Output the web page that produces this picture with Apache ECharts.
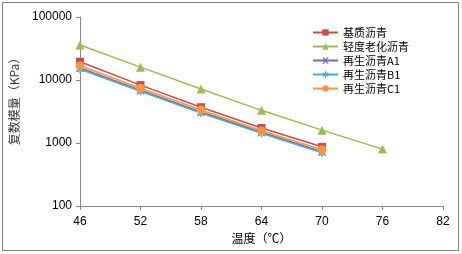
<!DOCTYPE html>
<html><head><meta charset="utf-8">
<script src="https://cdn.jsdelivr.net/npm/echarts@6/dist/echarts.min.js"></script>
<style>html,body{margin:0;padding:0;background:#fff}#c{width:462px;height:254px}</style>
</head><body><div id="c"></div>
<script>
const temps = [46, 52, 58, 64, 70, 76];
const seriesNames = ['基质沥青', '轻度老化沥青', '再生沥青A1', '再生沥青B1', '再生沥青C1'];
const base = [19500, 8300, 3700, 1730, 870];
const aged = [36000, 16000, 7200, 3300, 1600, 800];
const a1 = [15500, 6900, 3100, 1480, 730];
const b1 = [14800, 6600, 2980, 1420, 700];
const c1 = [16800, 7400, 3350, 1560, 780];
const valueSets = [base, aged, a1, b1, c1];
const xTicks = [46, 52, 58, 64, 70, 76, 82];
const yTicks = [100, 1000, 10000, 100000];

const colors = ['#C0504D', '#9BBB59', '#8064A2', '#4BACC6', '#F79646'];
const xPath = 'path://M0,0 L2,0 L5,3 L8,0 L10,0 L6,5 L10,10 L8,10 L5,7 L2,10 L0,10 L4,5 Z';
const starPath = 'path://M4,0 L6,0 L6,3.5 L9,1.5 L10,3 L7,5 L10,7 L9,8.5 L6,6.5 L6,10 L4,10 L4,6.5 L1,8.5 L0,7 L3,5 L0,3 L1,1.5 L4,3.5 Z';
const symbols = ['rect', 'triangle', xPath, starPath, 'circle'];
const sizes = [8, 9, 8, 8, 9];

const chart = echarts.init(document.getElementById('c'));
const series = valueSets.map((vals, i) => ({
  name: seriesNames[i],
  type: 'line',
  data: vals.map((v, j) => [temps[j], v]),
  symbol: symbols[i],
  symbolSize: sizes[i],
  showAllSymbol: true,
  lineStyle: { color: colors[i], width: 1.5 },
  itemStyle: { color: colors[i] },
  z: 2 + (i === 4 ? 1 : 0)
}));

chart.setOption({
  animation: false,
  backgroundColor: '#fff',
  textStyle: { fontFamily: 'Liberation Sans, Noto Sans CJK SC' },
  graphic: [{
    type: 'rect', shape: { x: 2.5, y: 2.5, width: 456, height: 248 },
    style: { fill: 'none', stroke: '#7f7f7f', lineWidth: 1 }, silent: true
  }],
  grid: { left: 80, right: 19, top: 17, bottom: 48 },
  legend: {
    orient: 'vertical', left: 307, top: 21, itemWidth: 25, itemHeight: 8, itemGap: 1,
    textStyle: { fontSize: 11, lineHeight: 13, color: '#000', fontFamily: 'Noto Sans CJK SC' },
    data: seriesNames
  },
  xAxis: {
    type: 'value', min: 46, max: 82, interval: 6,
    name: '温度（℃）', nameLocation: 'middle', nameGap: 25,
    nameTextStyle: { fontSize: 12, color: '#000', fontFamily: 'Noto Sans CJK SC' },
    axisLine: { lineStyle: { color: '#868686', width: 1 } },
    axisTick: { show: true, length: 4, lineStyle: { color: '#868686' } },
    axisLabel: { fontSize: 12, color: '#000', margin: 10,
      formatter: v => xTicks.includes(v) ? String(v) : '' },
    splitLine: { show: false }
  },
  yAxis: {
    type: 'log', logBase: 10, min: 100, max: 100000,
    name: '复数模量（KPa）', nameLocation: 'middle', nameGap: 60, nameRotate: 90,
    nameTextStyle: { fontSize: 12, color: '#333', fontFamily: 'Noto Sans CJK SC', padding: [0, 0, 0, 26] },
    axisLine: { show: true, lineStyle: { color: '#868686', width: 1 } },
    axisTick: { show: true, length: 4, lineStyle: { color: '#868686' } },
    axisLabel: { fontSize: 12, color: '#000', margin: 8,
      formatter: v => yTicks.includes(Math.round(v)) ? String(Math.round(v)) : '' },
    splitLine: { show: false }
  },
  series: series
});
</script></body></html>
